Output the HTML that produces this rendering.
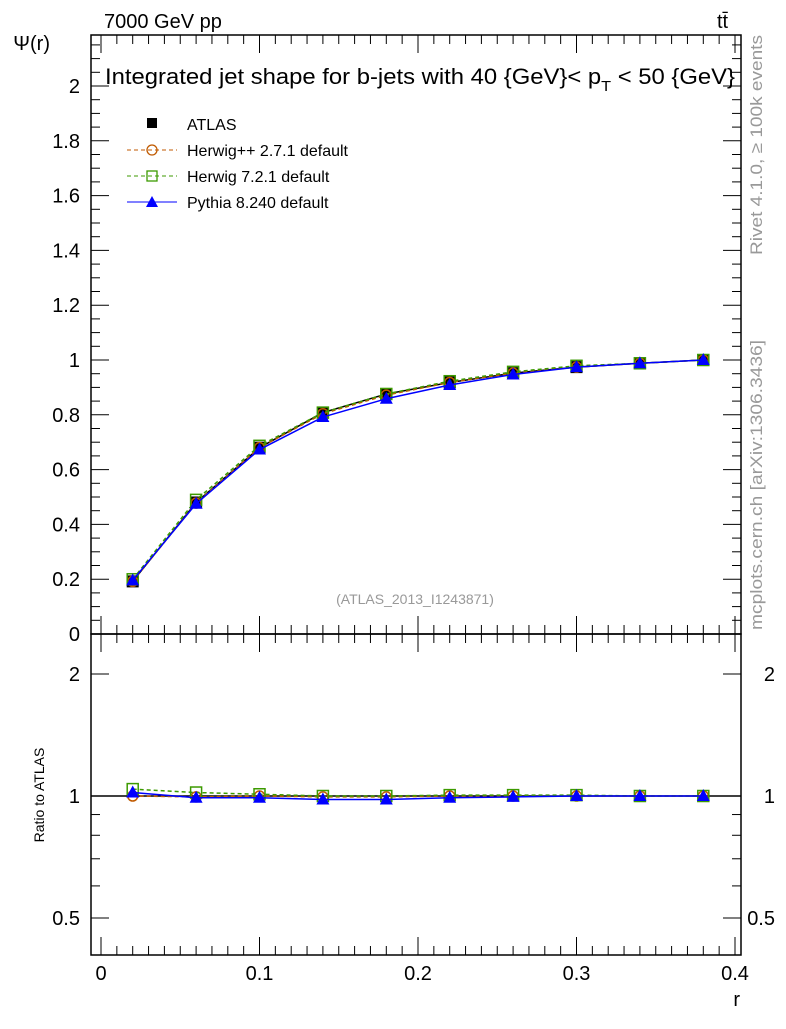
<!DOCTYPE html>
<html><head><meta charset="utf-8"><style>
body{margin:0;background:#fff}
svg text{font-family:"Liberation Sans",sans-serif}
</style></head><body>
<svg id="c" width="786" height="1024" xmlns="http://www.w3.org/2000/svg">
<text x="104" y="28" font-size="20">7000 GeV pp</text>
<text x="717" y="28" font-size="20">tt̄</text>
<text x="105" y="84" font-size="22" textLength="630" lengthAdjust="spacingAndGlyphs">Integrated jet shape for b-jets with 40 {GeV}&lt; p<tspan font-size="15" dy="7">T</tspan><tspan dy="-7"> &lt; 50 {GeV}</tspan></text>
<text x="50" y="50" font-size="20" text-anchor="end">Ψ(r)</text>
<text x="44" y="795" font-size="14" text-anchor="middle" transform="rotate(-90 44 795)">Ratio to ATLAS</text>
<text x="740" y="1006" font-size="20" text-anchor="end">r</text>
<text x="415" y="604" font-size="14" fill="#999" text-anchor="middle">(ATLAS_2013_I1243871)</text>
<text x="762" y="255" font-size="17" fill="#999" textLength="220" lengthAdjust="spacingAndGlyphs" transform="rotate(-90 762 255)">Rivet 4.1.0, ≥ 100k events</text>
<text x="762" y="630" font-size="17" fill="#999" textLength="290" lengthAdjust="spacingAndGlyphs" transform="rotate(-90 762 630)">mcplots.cern.ch [arXiv:1306.3436]</text>
<g id="legend">
<rect x="147" y="118" width="10" height="10" fill="#000"/>
<text x="187" y="130" font-size="16">ATLAS</text>
<line x1="127" y1="150" x2="177" y2="150" stroke="#c05a00" stroke-dasharray="4,3"/>
<circle cx="152" cy="150" r="5" fill="none" stroke="#c05a00" stroke-width="1.3"/>
<text x="187" y="156" font-size="16">Herwig++ 2.7.1 default</text>
<line x1="127" y1="176" x2="177" y2="176" stroke="#3c9a00" stroke-dasharray="4,3"/>
<rect x="147" y="171" width="10" height="10" fill="none" stroke="#3c9a00" stroke-width="1.3"/>
<text x="187" y="182" font-size="16">Herwig 7.2.1 default</text>
<line x1="127" y1="202" x2="177" y2="202" stroke="#0000ff"/>
<polygon points="152,196 158,207 146,207" fill="#0000ff"/>
<text x="187" y="208" font-size="16">Pythia 8.240 default</text>
</g>
</svg>
<script>
const rVals=[0.02,0.06,0.10,0.14,0.18,0.22,0.26,0.30,0.34,0.38];
const atlasVals=[0.192,0.480,0.680,0.808,0.876,0.918,0.952,0.974,0.988,1.0];
const herwigppRatio=[1.0,0.995,1.0,0.995,0.995,1.0,1.0,1.0,1.0,1.0];
const herwig7Ratio=[1.04,1.02,1.01,1.0,1.0,1.005,1.005,1.005,1.0,1.0];
const pythiaRatio=[1.02,0.99,0.99,0.98,0.98,0.99,0.995,1.0,1.0,1.0];
const xTicks=[0,0.1,0.2,0.3,0.4];
const yTicks=[0,0.2,0.4,0.6,0.8,1,1.2,1.4,1.6,1.8,2];
const ratioTicks=[0.5,1,2];
const NS="http://www.w3.org/2000/svg",svg=document.getElementById('c');
const L=91,R=741,T=35,M=634,B=955;
const X=v=>101+v*1585;
const Y=v=>634-v*274;
const YR=v=>796-Math.log2(v)*122;
function mk(t,a,p){const e=document.createElementNS(NS,t);for(const k in a)e.setAttribute(k,a[k]);(p||svg).appendChild(e);return e;}
let f1=mk('rect',{x:L,y:T,width:R-L,height:M-T,fill:'none',stroke:'#000','stroke-width':1.5});


let f2=mk('rect',{x:L,y:M,width:R-L,height:B-M,fill:'none',stroke:'#000','stroke-width':1.5});


const ax=mk('g',{stroke:'#000','stroke-width':1});


for(let i=-1;i<=41;i++){const v=i/100,x=X(v);if(x<L||x>R)continue;const maj=i%10==0;const len=maj?18:9;
 mk('line',{x1:x,y1:B,x2:x,y2:B-len},ax);mk('line',{x1:x,y1:M,x2:x,y2:M-len},ax);mk('line',{x1:x,y1:M,x2:x,y2:M+len},ax);mk('line',{x1:x,y1:T,x2:x,y2:T+len},ax);}
xTicks.forEach(v=>{const t=mk('text',{x:X(v),y:980,'font-size':20,'text-anchor':'middle'});t.textContent=String(v);

});
for(let i=0;i<=43;i++){const v=i*0.05,y=Y(v);if(y<T)continue;const maj=i%4==0;const len=maj?18:9;
 mk('line',{x1:L,y1:y,x2:L+len,y2:y},ax);mk('line',{x1:R,y1:y,x2:R-len,y2:y},ax);}
yTicks.forEach(v=>{const t=mk('text',{x:80,y:Y(v)+7,'font-size':20,'text-anchor':'end'});t.textContent=String(v);

});
[0.5,0.6,0.7,0.8,0.9,1,2].forEach(v=>{const y=YR(v);const maj=ratioTicks.includes(v);const len=maj?18:9;
 mk('line',{x1:L,y1:y,x2:L+len,y2:y},ax);mk('line',{x1:R,y1:y,x2:R-len,y2:y},ax);});
ratioTicks.forEach(v=>{[80,775].forEach(px=>{const t=mk('text',{x:px,y:YR(v)+7,'font-size':20,'text-anchor':'end'});t.textContent=String(v);

});});
mk('line',{x1:L,y1:YR(1),x2:R,y2:YR(1),stroke:'#000','stroke-width':1.5},ax);
function series(name,vals,yf,color,dash,marker){
 const g=mk('g',{});
 
 
 mk('polyline',{points:vals.map((v,i)=>X(rVals[i])+','+yf(v)).join(' '),fill:'none',stroke:color,'stroke-width':1.5,'stroke-dasharray':dash||'none'},g);
 vals.forEach((v,i)=>{const x=X(rVals[i]),y=yf(v);let m;
  if(marker=='sq')m=mk('rect',{x:x-6,y:y-6,width:12,height:12,fill:'#000'},g);
  else if(marker=='osq')m=mk('rect',{x:x-5.5,y:y-5.5,width:11,height:11,fill:'none',stroke:color,'stroke-width':1.5},g);
  else if(marker=='oc')m=mk('circle',{cx:x,cy:y,r:5,fill:'none',stroke:color,'stroke-width':1.5},g);
  else m=mk('polygon',{points:`${x},${y-7} ${x+6.5},${y+5} ${x-6.5},${y+5}`,fill:color},g);
  
  });
}
const hpp=atlasVals.map((v,i)=>v*herwigppRatio[i]),h7=atlasVals.map((v,i)=>v*herwig7Ratio[i]),py=atlasVals.map((v,i)=>v*pythiaRatio[i]);
series('atlas-data',atlasVals,Y,'#000','','sq');
series('herwigpp-line',hpp,Y,'#c05a00','4,3','oc');
series('herwig7-line',h7,Y,'#3c9a00','4,3','osq');
series('pythia-line',py,Y,'#0000ff','','tri');
series('herwigpp-ratio',herwigppRatio,YR,'#c05a00','4,3','oc');
series('herwig7-ratio',herwig7Ratio,YR,'#3c9a00','4,3','osq');
series('pythia-ratio',pythiaRatio,YR,'#0000ff','','tri');
</script>
</body></html>
